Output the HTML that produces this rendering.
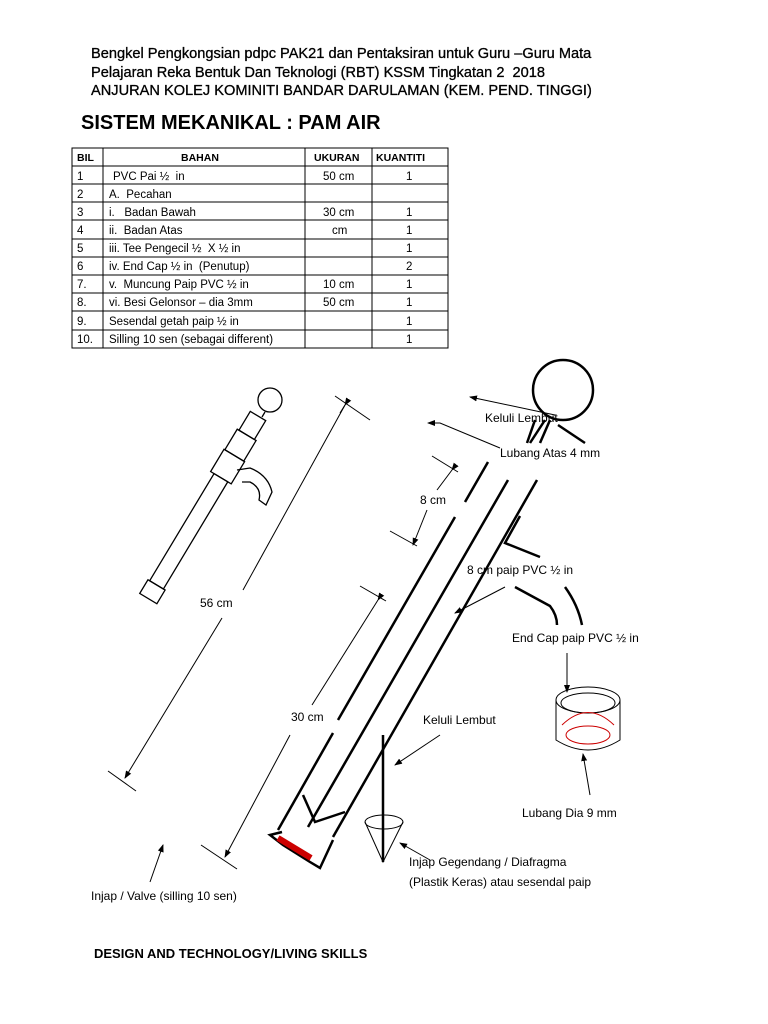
<!DOCTYPE html>
<html><head><meta charset="utf-8"><style>
html,body{margin:0;padding:0;background:#fff;}
body{width:768px;height:1024px;position:relative;overflow:hidden;font-family:"Liberation Sans",sans-serif;}
.h{position:absolute;left:91px;font-size:14.6px;color:#000;white-space:nowrap;-webkit-text-stroke:0.3px #000;}
</style></head><body>
<div class="h" style="top:46px">Bengkel Pengkongsian pdpc PAK21 dan Pentaksiran untuk Guru –Guru Mata</div>
<div class="h" style="top:65px">Pelajaran Reka Bentuk Dan Teknologi (RBT) KSSM Tingkatan 2&nbsp; 2018</div>
<div class="h" style="top:83px">ANJURAN KOLEJ KOMINITI BANDAR DARULAMAN (KEM. PEND. TINGGI)</div>
<div style="position:absolute;left:81px;top:112px;font-size:20px;font-weight:bold;font-family:'Liberation Sans',sans-serif;">SISTEM MEKANIKAL : PAM AIR</div>
<svg width="768" height="1024" style="position:absolute;left:0;top:0" xmlns="http://www.w3.org/2000/svg" font-family="Liberation Sans, sans-serif">
<defs><marker id="a" markerWidth="8" markerHeight="8" refX="7" refY="4" orient="auto"><path d="M0,1 L8,4 L0,7 z" fill="#000"/></marker></defs>
<g stroke="#000" stroke-width="1" fill="none">
<rect x="72" y="148" width="376" height="200"/>
<line x1="103" y1="148" x2="103" y2="348"/><line x1="305" y1="148" x2="305" y2="348"/><line x1="372" y1="148" x2="372" y2="348"/>
<line x1="72" y1="166" x2="448" y2="166"/><line x1="72" y1="184" x2="448" y2="184"/><line x1="72" y1="202" x2="448" y2="202"/>
<line x1="72" y1="220" x2="448" y2="220"/><line x1="72" y1="239" x2="448" y2="239"/><line x1="72" y1="257" x2="448" y2="257"/>
<line x1="72" y1="275" x2="448" y2="275"/><line x1="72" y1="293" x2="448" y2="293"/><line x1="72" y1="311" x2="448" y2="311"/><line x1="72" y1="330" x2="448" y2="330"/>
</g>
<g font-size="11.5" fill="#000">
<text x="77" y="161" font-weight="bold" font-size="10.5">BIL</text><text x="181" y="161" font-weight="bold" font-size="10.5">BAHAN</text><text x="314" y="161" font-weight="bold" font-size="10.5">UKURAN</text><text x="376" y="161" font-weight="bold" font-size="10.5">KUANTITI</text>
<text x="77" y="180">1</text><text x="113" y="180">PVC Pai ½&#160; in</text><text x="323" y="180">50 cm</text><text x="406" y="180">1</text>
<text x="77" y="198">2</text><text x="109" y="198">A.&#160; Pecahan</text>
<text x="77" y="216">3</text><text x="109" y="216">i.&#160;&#160; Badan Bawah</text><text x="323" y="216">30 cm</text><text x="406" y="216">1</text>
<text x="77" y="234">4</text><text x="109" y="234">ii.&#160; Badan Atas</text><text x="332" y="234">cm</text><text x="406" y="234">1</text>
<text x="77" y="252">5</text><text x="109" y="252">iii. Tee Pengecil ½&#160; X ½ in</text><text x="406" y="252">1</text>
<text x="77" y="270">6</text><text x="109" y="270">iv. End Cap ½ in&#160; (Penutup)</text><text x="406" y="270">2</text>
<text x="77" y="288">7.</text><text x="109" y="288">v.&#160; Muncung Paip PVC ½ in</text><text x="323" y="288">10 cm</text><text x="406" y="288">1</text>
<text x="77" y="306">8.</text><text x="109" y="306">vi. Besi Gelonsor – dia 3mm</text><text x="323" y="306">50 cm</text><text x="406" y="306">1</text>
<text x="77" y="325">9.</text><text x="109" y="325">Sesendal getah paip ½ in</text><text x="406" y="325">1</text>
<text x="77" y="343">10.</text><text x="109" y="343">Silling 10 sen (sebagai different)</text><text x="406" y="343">1</text>
</g>
<g stroke="#000" stroke-width="1.3" fill="none">
<circle cx="270" cy="400" r="12"/>
<line x1="265" y1="412" x2="262" y2="417"/>
<g transform="translate(258,416) rotate(31)">
<rect x="-9" y="0" width="18" height="22"/>
<rect x="-11" y="22" width="22" height="24"/>
<rect x="-12" y="46" width="24" height="26"/>
<rect x="-8" y="72" width="16" height="125"/>
<rect x="-10" y="197" width="20" height="16"/>
</g>
<path d="M237,470 L250,468 Q268,475 272,492 L266,505 L259,500 Q262,488 250,482 L242,482"/>
</g>
<g stroke="#000" stroke-width="1" fill="none">
<line x1="345" y1="405" x2="340" y2="413" marker-start="url(#a)"/>
<line x1="345" y1="405" x2="243" y2="590"/>
<line x1="222" y1="618" x2="125" y2="778" marker-end="url(#a)"/>
<line x1="335" y1="396" x2="370" y2="420"/><line x1="108" y1="771" x2="136" y2="791"/>
<line x1="378" y1="600" x2="312" y2="705" marker-start="url(#a)"/>
<line x1="290" y1="735" x2="225" y2="857" marker-end="url(#a)"/>
<line x1="360" y1="586" x2="386" y2="601"/><line x1="201" y1="845" x2="237" y2="869"/>
<line x1="452" y1="470" x2="437" y2="490" marker-start="url(#a)"/>
<line x1="427" y1="510" x2="413" y2="545" marker-end="url(#a)"/>
<line x1="432" y1="456" x2="458" y2="472"/><line x1="390" y1="531" x2="417" y2="546"/>
</g>
<g stroke="#000" stroke-width="2.5" fill="none">
<circle cx="563" cy="390" r="30"/>
<line x1="535" y1="420" x2="527" y2="443"/><line x1="545" y1="420" x2="530" y2="443"/>
<line x1="558" y1="425" x2="585" y2="443"/><line x1="550" y1="420" x2="540" y2="443"/>
<line x1="488" y1="462" x2="465" y2="502"/>
<line x1="455" y1="517" x2="338" y2="720"/>
<line x1="333" y1="733" x2="278" y2="830"/>
<line x1="508" y1="480" x2="308" y2="827"/>
<line x1="537" y1="480" x2="333" y2="837"/>
<path d="M520,516 L505,543 L540,557"/>
<path d="M303,795 L315,822 L345,812"/>
<path d="M282,832 L270,835 L283,845 L310,862 L320,868 L333,840"/>
<path d="M515,587 L550,606 Q557,615 557,625"/>
<path d="M565,587 Q578,605 582,625"/>
<line x1="383" y1="735" x2="383" y2="862"/>
</g>
<line x1="278" y1="838" x2="311" y2="858" stroke="#c00" stroke-width="6"/>
<g stroke="#000" stroke-width="1" fill="none">
<path d="M365,822 L383,862 L403,822"/><ellipse cx="384" cy="822" rx="19" ry="7"/>
<ellipse cx="588" cy="700" rx="32" ry="13"/><ellipse cx="588" cy="703" rx="27" ry="10"/>
<path d="M556,700 L556,740 Q588,760 620,740 L620,700"/>
<path d="M562,725 Q588,700 614,725" stroke="#c00"/>
<ellipse cx="588" cy="735" rx="22" ry="9" stroke="#c00"/>
<line x1="555" y1="415" x2="470" y2="397" marker-end="url(#a)"/>
<path d="M500,448 L440,423 L428,423" marker-end="url(#a)"/>
<line x1="505" y1="587" x2="455" y2="613" marker-end="url(#a)"/>
<line x1="567" y1="653" x2="567" y2="692" marker-end="url(#a)"/>
<line x1="590" y1="795" x2="583" y2="754" marker-end="url(#a)"/>
<line x1="440" y1="735" x2="395" y2="765" marker-end="url(#a)"/>
<line x1="430" y1="860" x2="400" y2="843" marker-end="url(#a)"/>
<line x1="150" y1="882" x2="163" y2="845" marker-end="url(#a)"/>
</g>
<g font-size="12" fill="#000">
<text x="200" y="607">56 cm</text>
<text x="291" y="721">30 cm</text>
<text x="420" y="504">8 cm</text>
<text x="485" y="422">Keluli Lembut</text>
<text x="500" y="457">Lubang Atas 4 mm</text>
<text x="467" y="574">8 cm paip PVC ½ in</text>
<text x="512" y="642">End Cap paip PVC ½ in</text>
<text x="423" y="724">Keluli Lembut</text>
<text x="522" y="817">Lubang Dia 9 mm</text>
<text x="409" y="866">Injap Gegendang / Diafragma</text>
<text x="409" y="886">(Plastik Keras) atau sesendal paip</text>
<text x="91" y="900">Injap / Valve (silling 10 sen)</text>
</g>
<text x="94" y="958" font-size="13" font-weight="bold">DESIGN AND TECHNOLOGY/LIVING SKILLS</text>
</svg>
</body></html>
